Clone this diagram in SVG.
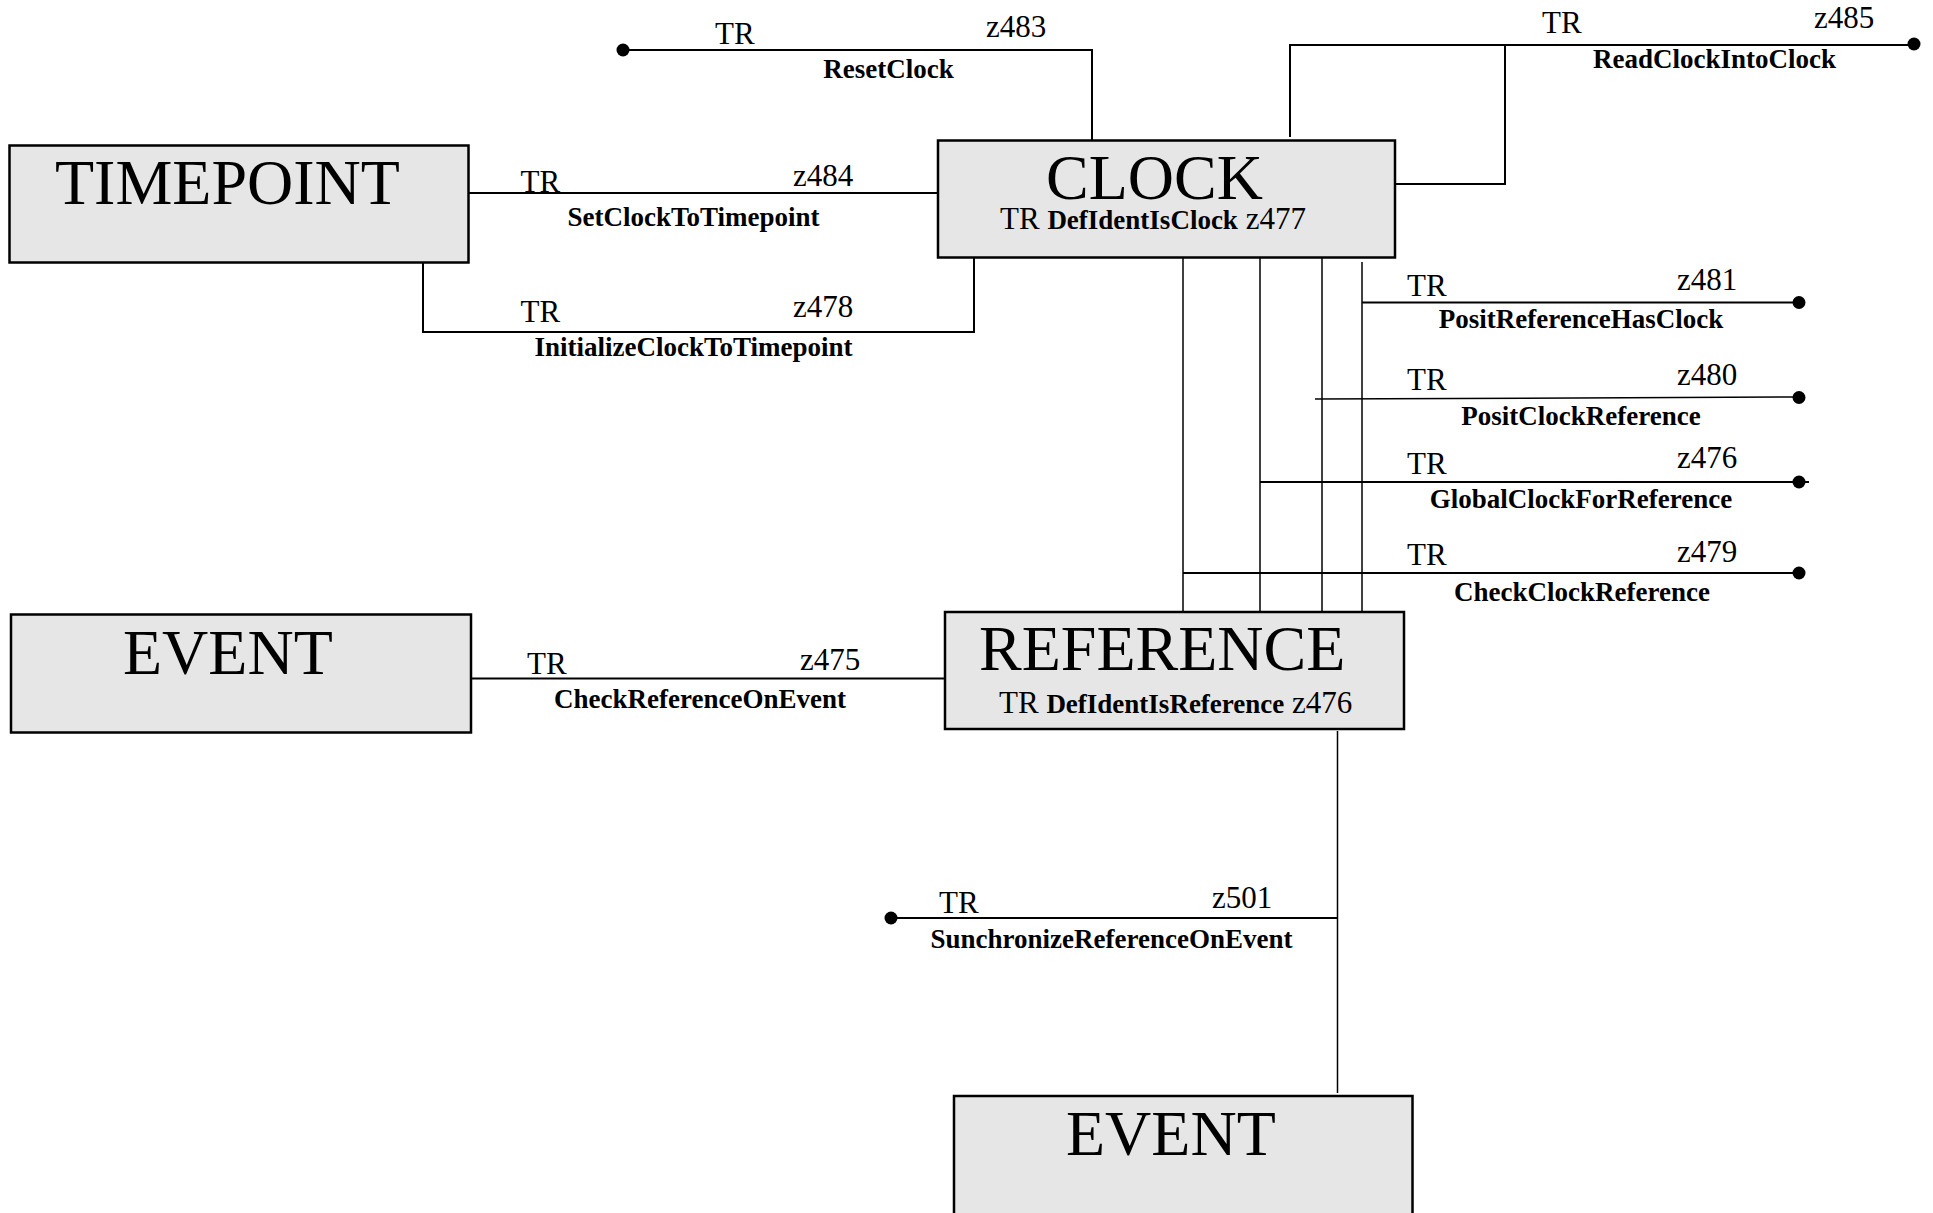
<svg xmlns="http://www.w3.org/2000/svg" width="1933" height="1213" viewBox="0 0 1933 1213">
<style>
.box{fill:#e6e6e6;stroke:#000;stroke-width:2.5}
.big{font-family:"Liberation Serif","Times New Roman",serif;font-size:64px;fill:#000}
.reg{font-family:"Liberation Serif","Times New Roman",serif;font-size:31px;fill:#000}
.bold{font-family:"Liberation Serif","Times New Roman",serif;font-size:27px;font-weight:bold;fill:#000}
.lbl{font-family:"Liberation Serif","Times New Roman",serif;font-size:27px;font-weight:bold;fill:#000;text-anchor:middle}
.ln{fill:none;stroke:#000;stroke-width:2}
.thin{fill:none;stroke:#000;stroke-width:1.5}
.dot{fill:#000}
</style>
<rect width="1933" height="1213" fill="#fff"/>
<g id="connectors">
  <path class="ln" d="M623,50 H1092 V140"/>
  <circle class="dot" cx="623" cy="50" r="6.5"/>
  <path class="ln" d="M1290,137 V45 H1914"/>
  <path class="ln" d="M1395,184 H1505 V45"/>
  <circle class="dot" cx="1914" cy="44" r="6.5"/>
  <path class="ln" d="M465,193 H938"/>
  <path class="ln" d="M423,259 V332 H974 V258"/>
  <path class="thin" d="M1183,258 V617"/>
  <path class="thin" d="M1260,258 V612"/>
  <path class="thin" d="M1322,258 V612"/>
  <path class="thin" d="M1362,262 V612"/>
  <path class="ln" d="M1362,302.5 H1799"/>
  <circle class="dot" cx="1799" cy="302.5" r="6.5"/>
  <path class="thin" d="M1315,399 L1799,397"/>
  <circle class="dot" cx="1799" cy="397.5" r="6.5"/>
  <path class="ln" d="M1260,482 H1809"/>
  <circle class="dot" cx="1799" cy="482" r="6.5"/>
  <path class="ln" d="M1183,573 H1799"/>
  <circle class="dot" cx="1799" cy="573" r="6.5"/>
  <path class="ln" d="M471,678.5 H945"/>
  <path class="thin" d="M1337.5,731 V1093"/>
  <path class="ln" d="M891,918 H1337.5"/>
  <circle class="dot" cx="891" cy="918" r="6.5"/>
  <text class="reg" x="715" y="44">TR</text>
  <text class="reg" x="986" y="37">z483</text>
  <text class="lbl" x="888.6" y="78">ResetClock</text>
  <text class="reg" x="1542" y="33">TR</text>
  <text class="reg" x="1814" y="28">z485</text>
  <text class="lbl" x="1714.5" y="68">ReadClockIntoClock</text>
  <text class="reg" x="520.5" y="192">TR</text>
  <text class="reg" x="793" y="186">z484</text>
  <text class="lbl" x="693.6" y="225.7">SetClockToTimepoint</text>
  <text class="reg" x="520.5" y="321.7">TR</text>
  <text class="reg" x="793" y="316.7">z478</text>
  <text class="lbl" x="693.6" y="356">InitializeClockToTimepoint</text>
  <text class="reg" x="1407" y="296">TR</text>
  <text class="reg" x="1677" y="290">z481</text>
  <text class="lbl" x="1581" y="328">PositReferenceHasClock</text>
  <text class="reg" x="1407" y="390">TR</text>
  <text class="reg" x="1677" y="385">z480</text>
  <text class="lbl" x="1581" y="425">PositClockReference</text>
  <text class="reg" x="1407" y="474">TR</text>
  <text class="reg" x="1677" y="468">z476</text>
  <text class="lbl" x="1581" y="508">GlobalClockForReference</text>
  <text class="reg" x="1407" y="565">TR</text>
  <text class="reg" x="1677" y="562">z479</text>
  <text class="lbl" x="1582" y="601">CheckClockReference</text>
  <text class="reg" x="527" y="673.7">TR</text>
  <text class="reg" x="800" y="669.6">z475</text>
  <text class="lbl" x="700" y="708">CheckReferenceOnEvent</text>
  <text class="reg" x="939" y="913">TR</text>
  <text class="reg" x="1212" y="908">z501</text>
  <text class="lbl" x="1111.5" y="948">SunchronizeReferenceOnEvent</text>
</g>
<g id="timepoint">
  <rect class="box" x="9.5" y="145.5" width="459" height="117"/>
  <text class="big" x="55" y="204">TIMEPOINT</text>
</g>
<g id="clock">
  <rect class="box" x="938" y="140.5" width="457" height="117"/>
  <text class="big" x="1046" y="199">CLOCK</text>
  <text class="reg" x="1000" y="229">TR <tspan class="bold">DefIdentIsClock</tspan> z477</text>
</g>
<g id="event1">
  <rect class="box" x="11" y="614.5" width="460" height="118"/>
  <text class="big" x="123" y="674">EVENT</text>
</g>
<g id="reference">
  <rect class="box" x="945" y="612" width="459" height="117"/>
  <text class="big" x="979" y="670">REFERENCE</text>
  <text class="reg" x="999" y="713">TR <tspan class="bold">DefIdentIsReference</tspan> z476</text>
</g>
<g id="event2">
  <rect class="box" x="954" y="1096" width="458.5" height="150"/>
  <text class="big" x="1066" y="1155">EVENT</text>
</g>
</svg>
